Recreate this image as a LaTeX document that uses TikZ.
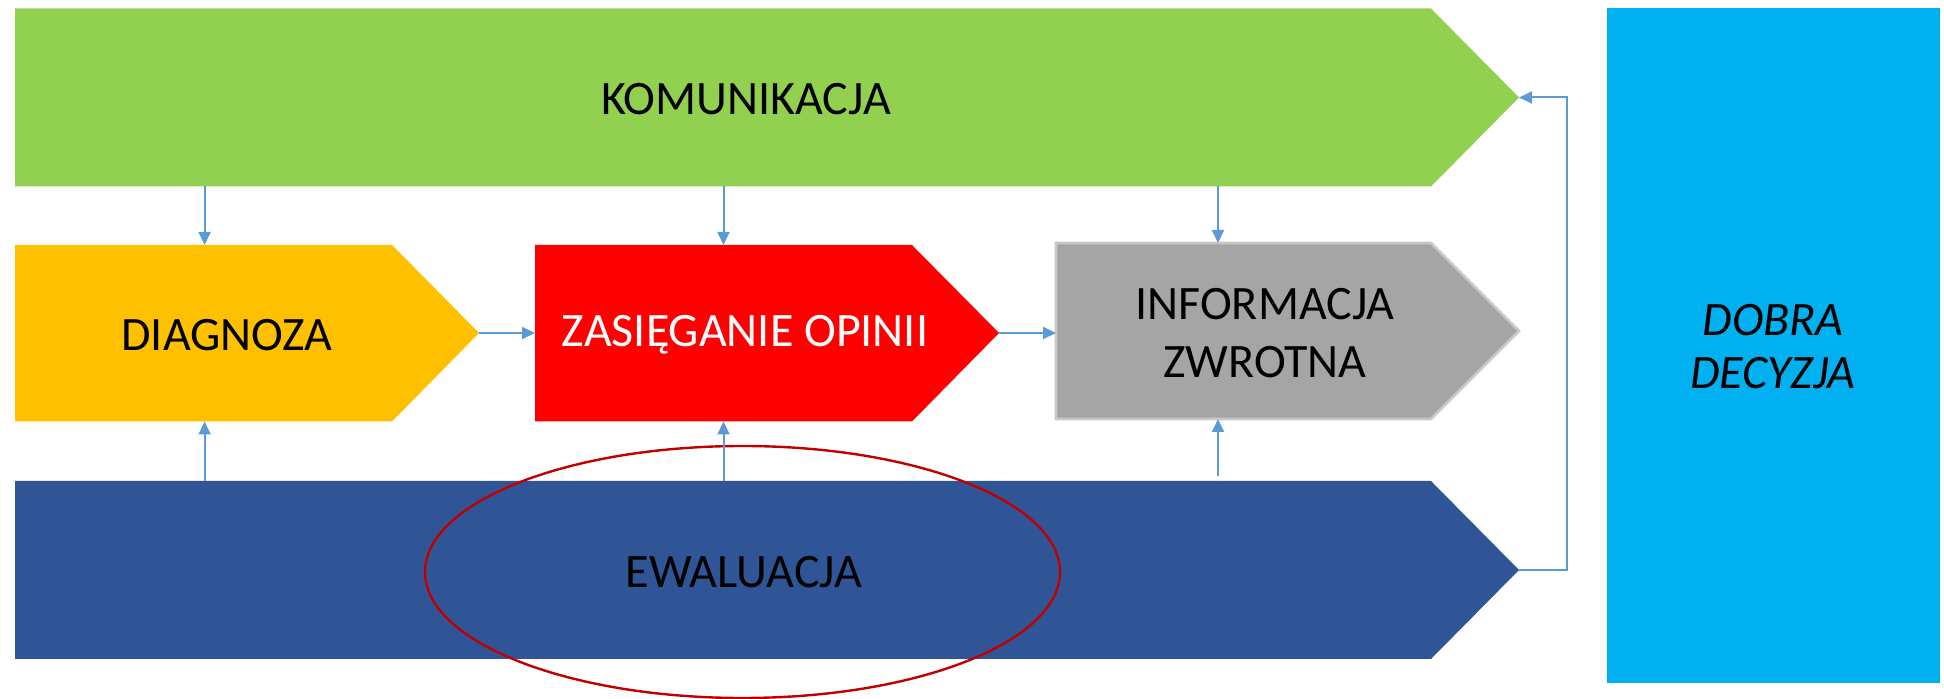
\documentclass[tikz,border=0pt]{standalone}
\usepackage{fontspec}
\setmainfont{Carlito}
\usetikzlibrary{arrows.meta}
\definecolor{kgreen}{HTML}{92D050}
\definecolor{korange}{HTML}{FFC000}
\definecolor{kred}{HTML}{FF0000}
\definecolor{kgray}{HTML}{A5A5A5}
\definecolor{kgrayline}{HTML}{C8C8C8}
\definecolor{kblue}{HTML}{2F5597}
\definecolor{klblue}{HTML}{00B0F0}
\definecolor{karrow}{HTML}{5B9BD5}
\definecolor{kellipse}{HTML}{C00000}
\begin{document}
\begin{tikzpicture}[x=0.5pt,y=-0.5pt,
  lbl/.style={font=\fontsize{24}{29}\selectfont, text=black, align=center, inner sep=0pt},
  arr/.style={draw=karrow, line width=1pt, -{Triangle[length=6.5pt,width=6pt]}}]
\useasboundingbox (0,0) rectangle (1944,699);
% shapes
\fill[kgreen] (15,8.5) -- (1431,8.5) -- (1519,97.5) -- (1431,186.5) -- (15,186.5) -- cycle;
\fill[korange] (15,245) -- (392,245) -- (479,333) -- (392,421.5) -- (15,421.5) -- cycle;
\fill[kred] (535,245) -- (912,245) -- (999,333) -- (912,421.5) -- (535,421.5) -- cycle;
\filldraw[fill=kgray, draw=kgrayline, line width=1.3pt] (1056,243) -- (1431,243) -- (1519,331) -- (1431,419) -- (1056,419) -- cycle;
\fill[kblue] (15,481) -- (1431,481) -- (1519,570) -- (1431,659) -- (15,659) -- cycle;
\fill[klblue] (1607,8.5) rectangle (1940,683.5);
% ellipse
\draw[kellipse, line width=1.2pt] (742.5,572) ellipse [x radius=317.5, y radius=126];
% labels
\node[lbl] (kom) at (746,99) {KOMUNIKACJA};
\node[lbl] (dia) at (227,335) {DIAGNOZA};
\node[lbl, text=white] (zas) at (745,335) {ZASIĘGANIE OPINII};
\node[lbl] (inf) at (1265,333) {INFORMACJA\\ZWROTNA};
\node[lbl, font=\fontsize{24}{26.5}\selectfont\itshape] (dob) at (1773,347) {DOBRA\\DECYZJA};
\node[lbl] (ewa) at (744,572) {EWALUACJA};
% connector points
\coordinate (g1) at (204.6,186.5); \coordinate (d1) at (204.6,245);
\coordinate (g2) at (723.5,186.5); \coordinate (r1) at (723.5,245);
\coordinate (g3) at (1218,186.5); \coordinate (i1) at (1218,243);
\coordinate (dtip) at (479,333); \coordinate (rl) at (535,333);
\coordinate (rtip) at (999,333); \coordinate (il) at (1056,333);
\coordinate (e1) at (204.6,481); \coordinate (d2) at (204.6,421.5);
\coordinate (e2) at (723.5,481); \coordinate (r2) at (723.5,421.5);
\coordinate (e3) at (1218,476); \coordinate (i2) at (1218,419);
\coordinate (btip) at (1519,570); \coordinate (gtip) at (1519,97.5);
% connectors
\draw[arr] (g1) -- (d1);
\draw[arr] (g2) -- (r1);
\draw[arr] (g3) -- (i1);
\draw[arr] (dtip) -- (rl);
\draw[arr] (rtip) -- (il);
\draw[arr] (e1) -- (d2);
\draw[arr] (e2) -- (r2);
\draw[arr] (e3) -- (i2);
\draw[arr] (btip) -- ++(48,0) |- (gtip);
\end{tikzpicture}
\end{document}
